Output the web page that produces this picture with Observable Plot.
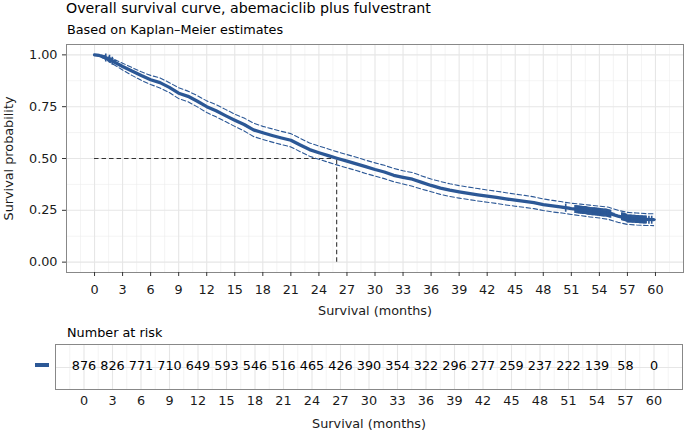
<!DOCTYPE html>
<html>
<head>
<meta charset="utf-8">
<script src="https://cdn.jsdelivr.net/npm/d3@7"></script>
<script src="https://cdn.jsdelivr.net/npm/@observablehq/plot@0.6"></script>
<style>
  body { margin: 0; background: #fff; font-family: "DejaVu Sans", sans-serif; }
  #wrap { position: relative; width: 685px; height: 435px; overflow: hidden; background: #fff; }
  .t { position: absolute; white-space: nowrap; color: #000; line-height: normal; }
  .abs { position: absolute; left: 0; }
</style>
</head>
<body>
<div id="wrap">
  <div class="t" style="left:66px;top:0px;font-size:14.2px">Overall survival curve, abemaciclib plus fulvestrant</div>
  <div class="t" style="left:67px;top:22px;font-size:12.8px">Based on Kaplan–Meier estimates</div>
  <div id="main" class="abs" style="top:38px"></div>
  <div class="t" style="left:67px;top:325px;font-size:12.8px">Number at risk</div>
  <div id="risk" class="abs" style="top:340px"></div>
  <div id="key" style="position:absolute;left:35px;top:362.5px;width:14px;height:4px;background:#2c5896"></div>
</div>
<script>
// ---- data ----
const months = [0, 0.5, 1, 2, 3, 4, 5, 6, 7, 8, 9, 10, 11, 12, 13, 14, 15, 16, 17, 18, 19, 20, 21, 22, 23, 24, 25, 26, 27, 28, 29, 30, 31, 32, 33, 34, 35, 36, 37, 38, 39, 40, 41, 42, 43, 44, 45, 46, 47, 48, 49, 50, 51, 52, 53, 54, 55, 56, 57, 58, 59, 59.8];
const survival = [1.000, 0.997, 0.990, 0.968, 0.944, 0.922, 0.900, 0.880, 0.866, 0.843, 0.815, 0.800, 0.776, 0.750, 0.730, 0.707, 0.685, 0.664, 0.638, 0.624, 0.611, 0.599, 0.588, 0.565, 0.543, 0.528, 0.514, 0.500, 0.487, 0.474, 0.461, 0.447, 0.435, 0.419, 0.409, 0.400, 0.385, 0.370, 0.357, 0.347, 0.339, 0.332, 0.325, 0.318, 0.312, 0.305, 0.299, 0.293, 0.287, 0.278, 0.271, 0.265, 0.258, 0.253, 0.247, 0.242, 0.236, 0.222, 0.211, 0.208, 0.206, 0.205];
const upperCI = [1.000, 1.000, 0.997, 0.980, 0.960, 0.939, 0.918, 0.901, 0.889, 0.866, 0.841, 0.825, 0.803, 0.778, 0.760, 0.737, 0.714, 0.695, 0.671, 0.655, 0.643, 0.631, 0.620, 0.597, 0.575, 0.560, 0.546, 0.532, 0.519, 0.506, 0.492, 0.479, 0.467, 0.452, 0.441, 0.432, 0.416, 0.401, 0.389, 0.378, 0.369, 0.362, 0.355, 0.348, 0.342, 0.335, 0.328, 0.322, 0.315, 0.305, 0.298, 0.291, 0.284, 0.280, 0.275, 0.270, 0.265, 0.250, 0.240, 0.237, 0.234, 0.233];
const lowerCI = [1.000, 0.993, 0.983, 0.955, 0.927, 0.901, 0.877, 0.857, 0.840, 0.818, 0.789, 0.774, 0.749, 0.722, 0.701, 0.678, 0.655, 0.633, 0.606, 0.592, 0.579, 0.567, 0.556, 0.533, 0.511, 0.496, 0.482, 0.468, 0.455, 0.442, 0.428, 0.415, 0.403, 0.388, 0.377, 0.366, 0.352, 0.340, 0.327, 0.317, 0.309, 0.302, 0.295, 0.289, 0.283, 0.276, 0.270, 0.264, 0.258, 0.249, 0.242, 0.237, 0.230, 0.224, 0.218, 0.213, 0.206, 0.192, 0.182, 0.179, 0.177, 0.176];

const censorMonths = [1.2, 1.6, 1.9, 50.4, 51.4, 51.5, 51.6, 51.7, 51.8, 51.9, 52.0, 52.1, 52.2, 52.3, 52.4, 52.5, 52.6, 52.7, 52.8, 52.9, 53.0, 53.1, 53.2, 53.3, 53.4, 53.5, 53.6, 53.7, 53.8, 53.9, 54.0, 54.1, 54.2, 54.3, 54.4, 54.5, 54.6, 54.7, 54.8, 54.9, 55.0, 55.1, 55.2, 56.4, 56.5, 56.6, 56.7, 56.8, 56.9, 57.0, 57.1, 57.2, 57.3, 57.4, 57.5, 57.6, 57.7, 57.8, 57.9, 58.0, 58.1, 58.2, 58.3, 58.4, 58.5, 58.6, 58.7, 58.8, 58.9, 59.0, 59.3, 59.6];
const censorSurvival = [0.987, 0.981, 0.972, 0.263, 0.256, 0.256, 0.255, 0.255, 0.254, 0.254, 0.253, 0.253, 0.252, 0.252, 0.251, 0.251, 0.250, 0.249, 0.248, 0.248, 0.247, 0.247, 0.246, 0.246, 0.245, 0.245, 0.244, 0.244, 0.243, 0.243, 0.242, 0.242, 0.241, 0.241, 0.240, 0.240, 0.239, 0.239, 0.238, 0.237, 0.236, 0.235, 0.234, 0.221, 0.220, 0.219, 0.218, 0.217, 0.214, 0.211, 0.211, 0.210, 0.210, 0.210, 0.209, 0.209, 0.209, 0.209, 0.208, 0.208, 0.208, 0.208, 0.207, 0.207, 0.207, 0.207, 0.206, 0.206, 0.206, 0.206, 0.205, 0.205];

const medianMonths = 25.9;
const medianSurvival = 0.5;

const timeTicks = [0, 3, 6, 9, 12, 15, 18, 21, 24, 27, 30, 33, 36, 39, 42, 45, 48, 51, 54, 57, 60];
const survTicks = [0, 0.25, 0.5, 0.75, 1];
const atRisk = [876, 826, 771, 710, 649, 593, 546, 516, 465, 426, 390, 354, 322, 296, 277, 259, 237, 222, 139, 58, 0];
const strataLabel = "All";

// ---- tables built from arrays ----
const km = months.map((t, i) => ({t, s: survival[i], hi: upperCI[i], lo: lowerCI[i]}));
const censored = censorMonths.map((t, i) => ({t, s: censorSurvival[i]}));
const riskRows = timeTicks.map((t, i) => ({t, n: atRisk[i], strata: strataLabel}));
const minorX = timeTicks.map(t => t - 1.5).concat([timeTicks[timeTicks.length - 1] + 1.5]);
const minorY = survTicks.slice(1).map(v => v - 0.125);

const BLUE = "#2c5896";
const FONT = "DejaVu Sans";
const TXT = "#1a1a1a";
const FS = 12.8;

const main = Plot.plot({
  width: 685, height: 282,
  marginTop: 6, marginBottom: 48, marginLeft: 66, marginRight: 2,
  style: {fontFamily: FONT, background: "transparent"},
  x: {domain: [-3, 63]},
  y: {domain: [-0.05, 1.05]},
  marks: [
    Plot.gridX(minorX, {stroke: "#ededed", strokeOpacity: 1, strokeWidth: 0.6}),
    Plot.gridY(minorY, {stroke: "#ededed", strokeOpacity: 1, strokeWidth: 0.6}),
    Plot.gridX(timeTicks, {stroke: "#e6e6e6", strokeOpacity: 1, strokeWidth: 1.1}),
    Plot.gridY(survTicks, {stroke: "#e6e6e6", strokeOpacity: 1, strokeWidth: 1.1}),
    Plot.ruleY([medianSurvival], {x1: 0, x2: medianMonths, stroke: "#333", strokeWidth: 1.1, strokeDasharray: "4.5,3"}),
    Plot.ruleX([medianMonths], {y1: 0, y2: medianSurvival, stroke: "#333", strokeWidth: 1.1, strokeDasharray: "4.5,3"}),
    Plot.line(km, {x: "t", y: "hi", stroke: BLUE, strokeWidth: 1.1, strokeDasharray: "4.5,2.5"}),
    Plot.line(km, {x: "t", y: "lo", stroke: BLUE, strokeWidth: 1.1, strokeDasharray: "4.5,2.5"}),
    Plot.line(km, {x: "t", y: "s", stroke: BLUE, strokeWidth: 3.3}),
    Plot.dot(censored, {x: "t", y: "s", symbol: "plus", r: 2.7, stroke: BLUE, strokeWidth: 1.6}),
    Plot.frame({stroke: "#888", strokeWidth: 1}),
    Plot.axisX(timeTicks, {tickSize: 4, tickPadding: 8.5, fontSize: FS, fill: TXT, stroke: "#333", label: null}),
    Plot.axisY(survTicks, {tickSize: 4, tickPadding: 5, fontSize: FS, fill: TXT, stroke: "#333", tickFormat: d3.format(".2f"), label: null}),
    Plot.text(["Survival (months)"], {frameAnchor: "bottom", dy: 42, fontSize: FS, fill: TXT}),
    Plot.text(["Survival probability"], {frameAnchor: "left", dx: -58, rotate: -90, textAnchor: "middle", fontSize: FS, fill: TXT})
  ]
});
document.getElementById("main").appendChild(main);

const risk = Plot.plot({
  width: 685, height: 95,
  marginTop: 4, marginBottom: 46, marginLeft: 55, marginRight: 3,
  style: {fontFamily: FONT, background: "transparent"},
  x: {domain: [-3, 63]},
  y: {type: "point", domain: [strataLabel], axis: null},
  marks: [
    Plot.gridX(minorX, {stroke: "#ededed", strokeOpacity: 1, strokeWidth: 0.6}),
    Plot.gridX(timeTicks, {stroke: "#e6e6e6", strokeOpacity: 1, strokeWidth: 1.1}),
    Plot.gridY([strataLabel], {stroke: "#e6e6e6", strokeOpacity: 1, strokeWidth: 1.1}),
    Plot.text(riskRows, {x: "t", y: "strata", text: d => String(d.n), fontSize: FS, fill: "#000", dy: -1.5}),
    Plot.frame({stroke: "#888", strokeWidth: 1}),
    Plot.axisX(timeTicks, {tickSize: 0, tickPadding: 6.5, fontSize: FS, fill: TXT, label: null}),
    Plot.text(["Survival (months)"], {frameAnchor: "bottom", dy: 38, fontSize: FS, fill: TXT})
  ]
});
document.getElementById("risk").appendChild(risk);
</script>
</body>
</html>
